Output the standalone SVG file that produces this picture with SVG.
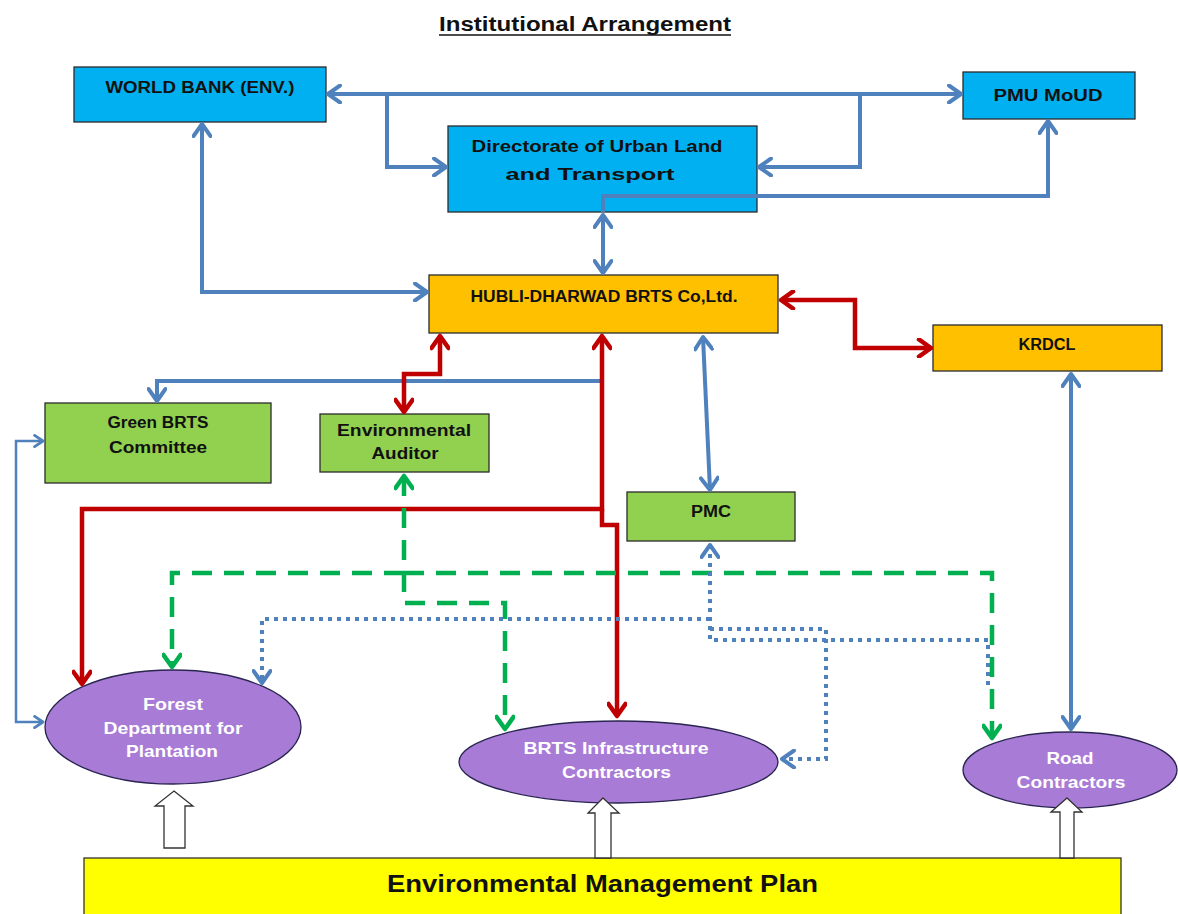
<svg xmlns="http://www.w3.org/2000/svg" width="1178" height="914" viewBox="0 0 1178 914">
<style>
.bx{stroke:#2b2b2b;stroke-width:1.3}
.blue{fill:#00B0F0}.org{fill:#FFC000}.grn{fill:#92D050}
.ell{fill:#A77BD6;stroke:#2a2550;stroke-width:1.3}
.t{font-family:"Liberation Sans",Arial,sans-serif;font-weight:bold;font-size:16px;fill:#111;text-anchor:middle}
.tw{font-family:"Liberation Sans",Arial,sans-serif;font-weight:bold;font-size:17px;fill:#fff;text-anchor:middle}
.cb{fill:none;stroke:#4F81BD;stroke-width:4}
.cbt{fill:none;stroke:#4F81BD;stroke-width:2.5}
.cr{fill:none;stroke:#C00000;stroke-width:4.5}
.cg{fill:none;stroke:#00B050;stroke-width:4.5;stroke-dasharray:20 12}
.cd{fill:none;stroke:#4F81BD;stroke-width:4;stroke-dasharray:4 5}
.blk{fill:#fff;stroke:#333;stroke-width:1.3}
</style>
<defs>
<marker id="ab" viewBox="0 0 20 20" refX="17" refY="10" markerWidth="20" markerHeight="20" markerUnits="userSpaceOnUse" orient="auto-start-reverse"><path d="M5,1.5 L17,10 L5,18.5" fill="none" stroke="#4F81BD" stroke-width="4" stroke-linejoin="round" stroke-linecap="round"/></marker>
<marker id="abt" viewBox="0 0 20 20" refX="17" refY="10" markerWidth="14" markerHeight="14" markerUnits="userSpaceOnUse" orient="auto-start-reverse"><path d="M5,2 L17,10 L5,18" fill="none" stroke="#4F81BD" stroke-width="4" stroke-linejoin="round" stroke-linecap="round"/></marker>
<marker id="ar" viewBox="0 0 20 20" refX="17" refY="10" markerWidth="20" markerHeight="20" markerUnits="userSpaceOnUse" orient="auto-start-reverse"><path d="M5,1.5 L17,10 L5,18.5" fill="none" stroke="#C00000" stroke-width="4.5" stroke-linejoin="round" stroke-linecap="round"/></marker>
<marker id="ag" viewBox="0 0 20 20" refX="17" refY="10" markerWidth="20" markerHeight="20" markerUnits="userSpaceOnUse" orient="auto-start-reverse"><path d="M5,1.5 L17,10 L5,18.5" fill="none" stroke="#00B050" stroke-width="4.5" stroke-linejoin="round" stroke-linecap="round"/></marker>
</defs>
<rect width="1178" height="914" fill="#fff"/>

<g id="title">
<text x="585" y="31" font-family="Liberation Sans,Arial,sans-serif" font-weight="bold" font-size="20" fill="#111" text-anchor="middle" textLength="292" lengthAdjust="spacingAndGlyphs">Institutional Arrangement</text>
<line x1="439" y1="35" x2="731" y2="35" stroke="#111" stroke-width="1.6"/>
</g>

<g id="world-bank"><rect class="bx blue" x="74" y="67" width="252" height="55"/><text class="t" x="200" y="93" textLength="189" lengthAdjust="spacingAndGlyphs">WORLD BANK (ENV.)</text></g>
<g id="pmu-moud"><rect class="bx blue" x="963" y="72" width="172" height="47"/><text class="t" x="1048" y="101" textLength="109" lengthAdjust="spacingAndGlyphs">PMU MoUD</text></g>
<g id="dult"><rect class="bx blue" x="448" y="126" width="309" height="86"/><text class="t" x="597" y="152" textLength="251" lengthAdjust="spacingAndGlyphs">Directorate of Urban  Land</text><text class="t" x="590" y="180" textLength="169" lengthAdjust="spacingAndGlyphs">and Transport</text></g>
<g id="hdbrts"><rect class="bx org" x="429" y="275" width="349" height="58"/><text class="t" x="604" y="302" textLength="267" lengthAdjust="spacingAndGlyphs">HUBLI-DHARWAD BRTS Co,Ltd.</text></g>
<g id="krdcl"><rect class="bx org" x="933" y="325" width="229" height="46"/><text class="t" x="1047" y="350" textLength="57" lengthAdjust="spacingAndGlyphs">KRDCL</text></g>
<g id="green-brts"><rect class="bx grn" x="45" y="403" width="226" height="80"/><text class="t" x="158" y="428" textLength="101" lengthAdjust="spacingAndGlyphs">Green BRTS</text><text class="t" x="158" y="453" textLength="98" lengthAdjust="spacingAndGlyphs">Committee</text></g>
<g id="env-auditor"><rect class="bx grn" x="320" y="414" width="169" height="58"/><text class="t" x="404" y="436" textLength="134" lengthAdjust="spacingAndGlyphs">Environmental</text><text class="t" x="405" y="459" textLength="67" lengthAdjust="spacingAndGlyphs">Auditor</text></g>
<g id="pmc"><rect class="bx grn" x="627" y="492" width="168" height="49"/><text class="t" x="711" y="517" textLength="40" lengthAdjust="spacingAndGlyphs">PMC</text></g>

<g id="forest"><ellipse class="ell" cx="173" cy="727" rx="128" ry="57"/><text class="tw" x="173" y="710" textLength="60" lengthAdjust="spacingAndGlyphs">Forest</text><text class="tw" x="173" y="734" textLength="139" lengthAdjust="spacingAndGlyphs">Department for</text><text class="tw" x="172" y="757" textLength="92" lengthAdjust="spacingAndGlyphs">Plantation</text></g>
<g id="brts-contractors"><ellipse class="ell" cx="618.5" cy="762" rx="159.5" ry="41"/><text class="tw" x="616" y="754" textLength="185" lengthAdjust="spacingAndGlyphs">BRTS Infrastructure</text><text class="tw" x="616.5" y="778" textLength="109" lengthAdjust="spacingAndGlyphs">Contractors</text></g>
<g id="road-contractors"><ellipse class="ell" cx="1070" cy="770" rx="107" ry="38"/><text class="tw" x="1070" y="764" textLength="47" lengthAdjust="spacingAndGlyphs">Road</text><text class="tw" x="1071" y="788" textLength="109" lengthAdjust="spacingAndGlyphs">Contractors</text></g>

<g id="emp"><rect x="84" y="858" width="1037" height="70" fill="#FFFF00" stroke="#333" stroke-width="1.3"/><text x="602.5" y="892" font-family="Liberation Sans,Arial,sans-serif" font-weight="bold" font-size="24" fill="#111" text-anchor="middle" textLength="431" lengthAdjust="spacingAndGlyphs">Environmental Management Plan</text></g>

<g id="connectors">
<path class="cb" d="M328,94 H961" marker-start="url(#ab)" marker-end="url(#ab)"/>
<path class="cb" d="M387,94 V167 H446" marker-end="url(#ab)"/>
<path class="cb" d="M860,94 V167 H759" marker-end="url(#ab)"/>
<path class="cb" d="M603,212 V196 H1048 V121" marker-end="url(#ab)"/>
<path class="cb" d="M603,215 V273" marker-start="url(#ab)" marker-end="url(#ab)"/>
<path class="cb" d="M202,124 V292 H427" marker-start="url(#ab)" marker-end="url(#ab)"/>
<path class="cb" d="M600,381 H157 V401" marker-end="url(#ab)"/>
<path class="cb" d="M703,337 L710,490" marker-start="url(#ab)" marker-end="url(#ab)"/>
<path class="cb" d="M1071,374 V729" marker-start="url(#ab)" marker-end="url(#ab)"/>
<path class="cbt" d="M43,441 H16 V722 H43" marker-start="url(#abt)" marker-end="url(#abt)"/>

<path class="cr" d="M781,300 H855 V348 H931" marker-start="url(#ar)" marker-end="url(#ar)"/>
<path class="cr" d="M440,336 V374 H404 V412" marker-start="url(#ar)" marker-end="url(#ar)"/>
<path class="cr" d="M602,336 V509 H82 V684" marker-start="url(#ar)" marker-end="url(#ar)"/>
<path class="cr" d="M602,509 V525 H617 V716" marker-end="url(#ar)"/>

<path class="cg" d="M404,476 V603 H505 V729" marker-start="url(#ag)" marker-end="url(#ag)"/>
<path class="cg" d="M404,573 H172 V667" marker-end="url(#ag)"/>
<path class="cg" d="M404,573 H992 V738" marker-end="url(#ag)"/>

<path class="cd" d="M710,545 V640 H988 V690" marker-start="url(#ab)"/>
<path class="cd" d="M710,619 H262 V683" marker-end="url(#ab)"/>
<path class="cd" d="M710,629 H826 V759 H782" marker-end="url(#ab)"/>

<polygon class="blk" points="174,791 193,806 185,806 185,848 164,848 164,806 155,806"/>
<polygon class="blk" points="603,798 619,813 611,813 611,858 595,858 595,813 588,813"/>
<polygon class="blk" points="1067,798 1082,812 1074,812 1074,858 1060,858 1060,812 1051,812"/>
</g>
</svg>
